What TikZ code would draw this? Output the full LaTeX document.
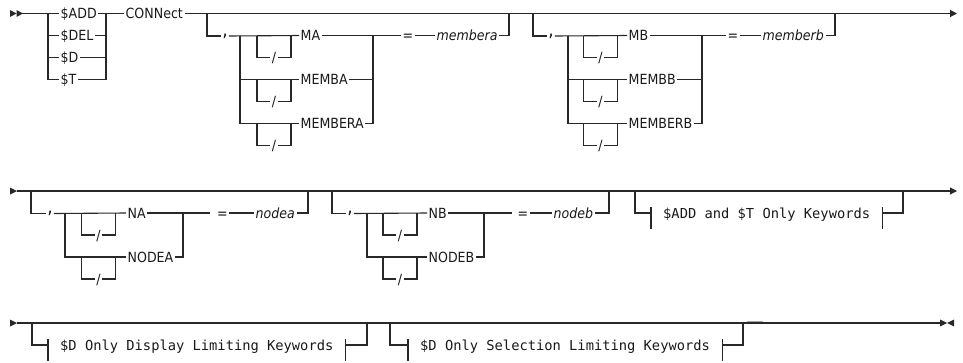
\documentclass[tikz,border=0pt]{standalone}
\usepackage{fontspec}
\usetikzlibrary{arrows.meta,calc}
\newfontfamily\railsans{DejaVu Sans Condensed}
\newfontfamily\railmono{DejaVu Sans Mono}
\definecolor{railink}{RGB}{40,40,40}
\definecolor{railtext}{RGB}{25,25,25}
\definecolor{railfaint}{RGB}{165,165,165}
\tikzset{
  wire/.style={railink,line width=1.1pt},
  flow/.style={wire,-{Triangle[length=7pt,width=7pt]}},
  kw/.style={font=\railsans\fontsize{14}{16}\selectfont,text=railtext,anchor=west,
             inner xsep=1.5pt,inner ysep=0pt,text height=10.2pt,text depth=0pt},
  var/.style={kw,font=\railsans\itshape\fontsize{14}{16}\selectfont},
  sep/.style={kw,anchor=center},
  comma/.style={kw,anchor=center,font=\railsans\fontsize{19}{20}\selectfont,
                inner xsep=1pt,text height=1pt,text depth=1pt},
  frag/.style={kw,font=\railmono\fontsize{13.75}{16}\selectfont,text height=10pt,inner xsep=12pt},
}

\begin{document}
\begin{tikzpicture}[x=1pt,y=-1pt]
  \path[use as bounding box] (0,0) rectangle (963,362);

  % row 1: command and member keywords
  \fill[railink] (10,10) -- (16.5,13.5) -- (10,17) -- cycle;
  \fill[railink] (16.5,10) -- (23,13.5) -- (16.5,17) -- cycle;
  \coordinate (start1) at (22,13.5);
  \coordinate (end1) at (957,13.5);
  \coordinate (vin) at (48,13.5);
  \coordinate (vout) at (106,13.5);
  \node[kw] (add) at (59,13.5) {\$ADD};
  \node[kw] (del) at (59,35.5) {\$DEL};
  \node[kw] (dd) at (59,57.5) {\$D};
  \node[kw] (tt) at (59,79.5) {\$T};
  \node[kw] (connect) at (124,13.5) {CONNect};
  \draw[wire] (start1) -- (add.west);
  \draw[wire] (vin) |- (del.west);
  \draw[wire] (vin) |- (dd.west);
  \draw[wire] (vin) |- (tt.west);
  \draw[wire] (add.east) -- (connect.west);
  \draw[wire] (del.east) -| (vout);
  \draw[wire] (dd.east) -| (vout);
  \draw[wire] (tt.east) -| (vout);
  \draw[flow] (connect.east) -- (end1);

  \coordinate (ain) at (207,13.5);
  \coordinate (aout) at (509,13.5);
  \coordinate (achl) at (240,35.5);
  \coordinate (achr) at (373,35.5);
  \node[comma] (acomma) at (225,36) {,};
  \node[kw] (ma) at (299,35.5) {MA};
  \node[kw] (memba) at (299,79.5) {MEMBA};
  \node[kw] (membera) at (299,123.5) {MEMBERA};
  \node[sep] (asl1) at (274,57.5) {/};
  \node[sep] (asl2) at (274,101.5) {/};
  \node[sep] (asl3) at (274,145.5) {/};
  \node[sep] (aeq) at (408,35.5) {=};
  \node[var] (avar) at (435,35.5) {membera};
  \draw[wire] (ain) |- (acomma.west);
  \draw[wire] (acomma.east) -- (ma.west);
  \draw[wire] (achl) |- (memba.west);
  \draw[wire] (achl) |- (membera.west);
  \draw[wire] (asl1.west) -| ($(asl1)+(-17,-22)$);
  \draw[wire] (asl1.east) -| ($(asl1)+(17,-22)$);
  \draw[wire] (asl2.west) -| ($(asl2)+(-17,-22)$);
  \draw[wire] (asl2.east) -| ($(asl2)+(17,-22)$);
  \draw[wire] (asl3.west) -| ($(asl3)+(-17,-22)$);
  \draw[wire] (asl3.east) -| ($(asl3)+(17,-22)$);
  \draw[wire] (ma.east) -- (aeq.west);
  \draw[wire] (memba.east) -| (achr);
  \draw[wire] (membera.east) -| (achr);
  \draw[wire] (aeq.east) -- (avar.west);
  \draw[wire] (avar.east) -| (aout);

  \coordinate (bin) at (533,13.5);
  \coordinate (bout) at (835,13.5);
  \coordinate (bchl) at (568,35.5);
  \coordinate (bchr) at (702,35.5);
  \node[comma] (bcomma) at (551,36) {,};
  \node[kw] (mb) at (627,35.5) {MB};
  \node[kw] (membb) at (627,79.5) {MEMBB};
  \node[kw] (memberb) at (627,123.5) {MEMBERB};
  \node[sep] (bsl1) at (600.5,57.5) {/};
  \node[sep] (bsl2) at (600.5,101.5) {/};
  \node[sep] (bsl3) at (600.5,145.5) {/};
  \node[sep] (beq) at (733,35.5) {=};
  \node[var] (bvar) at (761,35.5) {memberb};
  \draw[wire] (bin) |- (bcomma.west);
  \draw[wire] (bcomma.east) -- (mb.west);
  \draw[wire] (bchl) |- (membb.west);
  \draw[wire] (bchl) |- (memberb.west);
  \draw[wire] (bsl1.west) -| ($(bsl1)+(-17,-22)$);
  \draw[wire] (bsl1.east) -| ($(bsl1)+(17,-22)$);
  \draw[wire] (bsl2.west) -| ($(bsl2)+(-17,-22)$);
  \draw[wire] (bsl2.east) -| ($(bsl2)+(17,-22)$);
  \draw[wire] (bsl3.west) -| ($(bsl3)+(-17,-22)$);
  \draw[wire] (bsl3.east) -| ($(bsl3)+(17,-22)$);
  \draw[wire] (mb.east) -- (beq.west);
  \draw[wire] (membb.east) -| (bchr);
  \draw[wire] (memberb.east) -| (bchr);
  \draw[wire] (beq.east) -- (bvar.west);
  \draw[wire] (bvar.east) -| (bout);

  % row 2: node keywords
  \fill[railink] (10,187.5) -- (17,191) -- (10,194.5) -- cycle;
  \coordinate (start2) at (17,191);
  \coordinate (end2) at (957,191);
  \draw[flow] (start2) -- (end2);

  \coordinate (nain) at (31,191);
  \coordinate (naout) at (308,191);
  \coordinate (nachl) at (65,213);
  \coordinate (nachr) at (183,213);
  \coordinate (nagap) at (210,213);
  \node[comma] (nacomma) at (50,213.5) {,};
  \node[kw] (na) at (126,213) {NA};
  \node[kw] (nodea) at (126,257) {NODEA};
  \node[sep] (nasl1) at (98.5,235) {/};
  \node[sep] (nasl2) at (98.5,279) {/};
  \node[sep] (naeq) at (222.5,213) {=};
  \node[var] (navar) at (254,213) {nodea};
  \draw[wire] (nain) |- (nacomma.west);
  \draw[wire] (nacomma.east) -- (na.west);
  \draw[wire] (nachl) |- (nodea.west);
  \draw[wire] (nasl1.west) -| ($(nasl1)+(-17,-22)$);
  \draw[wire] (nasl1.east) -| ($(nasl1)+(17,-22)$);
  \draw[wire] (nasl2.west) -| ($(nasl2)+(-17,-22)$);
  \draw[wire] (nasl2.east) -| ($(nasl2)+(17,-22)$);
  \draw[wire] (na.east) -- (nagap);
  \draw[wire] (nodea.east) -| (nachr);
  \draw[wire] (naeq.east) -- (navar.west);
  \draw[wire] (navar.east) -| (naout);

  \coordinate (nbin) at (332,191);
  \coordinate (nbout) at (609,191);
  \coordinate (nbchl) at (367,213);
  \coordinate (nbchr) at (484,213);
  \coordinate (nbgap) at (512,213);
  \node[comma] (nbcomma) at (350,213.5) {,};
  \node[kw] (nb) at (427,213) {NB};
  \node[kw] (nodeb) at (427,257) {NODEB};
  \node[sep] (nbsl1) at (400,235) {/};
  \node[sep] (nbsl2) at (400,279) {/};
  \node[sep] (nbeq) at (523,213) {=};
  \node[var] (nbvar) at (552,213) {nodeb};
  \draw[wire] (nbin) |- (nbcomma.west);
  \draw[wire] (nbcomma.east) -- (nb.west);
  \draw[wire] (nbchl) |- (nodeb.west);
  \draw[wire] (nbsl1.west) -| ($(nbsl1)+(-17,-22)$);
  \draw[wire] (nbsl1.east) -| ($(nbsl1)+(17,-22)$);
  \draw[wire] (nbsl2.west) -| ($(nbsl2)+(-17,-22)$);
  \draw[wire] (nbsl2.east) -| ($(nbsl2)+(17,-22)$);
  \draw[wire] (nb.east) -- (nbgap);
  \draw[wire] (nodeb.east) -| (nbchr);
  \draw[wire] (nbeq.east) -- (nbvar.west);
  \draw[wire] (nbvar.east) -| (nbout);

  \coordinate (atin) at (635,191);
  \coordinate (atout) at (903,191);
  \node[frag] (addt) at (651,213) {\$ADD and \$T Only Keywords};
  \draw[wire] ([yshift=6pt]addt.west) -- ([yshift=-16pt]addt.west);
  \draw[wire] ([yshift=6pt]addt.east) -- ([yshift=-16pt]addt.east);
  \draw[wire] (atin) |- (addt.west);
  \draw[wire] (addt.east) -| (atout);

  % row 3: limiting keywords
  \fill[railink] (10,319.5) -- (17,323) -- (10,326.5) -- cycle;
  \coordinate (start3) at (17,323);
  \coordinate (end3) at (940,323);
  \draw[wire] (start3) -- (end3);
  \fill[railink] (940,319.5) -- (947,323) -- (940,326.5) -- cycle;
  \fill[railink] (954,319.5) -- (947,323) -- (954,326.5) -- cycle;

  \coordinate (dspin) at (32,323);
  \coordinate (dspout) at (367,323);
  \node[frag] (dsp) at (48,345) {\$D Only Display Limiting Keywords};
  \draw[wire] ([yshift=6pt]dsp.west) -- ([yshift=-16pt]dsp.west);
  \draw[wire] ([yshift=6pt]dsp.east) -- ([yshift=-16pt]dsp.east);
  \draw[wire] (dspin) |- (dsp.west);
  \draw[wire] (dsp.east) -| (dspout);

  \coordinate (selin) at (390,323);
  \coordinate (selout) at (743,323);
  \node[frag] (sel) at (408,345) {\$D Only Selection Limiting Keywords};
  \draw[wire] ([yshift=6pt]sel.west) -- ([yshift=-16pt]sel.west);
  \draw[wire] ([yshift=6pt]sel.east) -- ([yshift=-16pt]sel.east);
  \draw[wire] (selin) |- (sel.west);
  \draw[wire] (sel.east) -| (selout);
  \draw[railfaint,line width=1.6pt] (747,321.6) -- (763,321.6);
\end{tikzpicture}
\end{document}
